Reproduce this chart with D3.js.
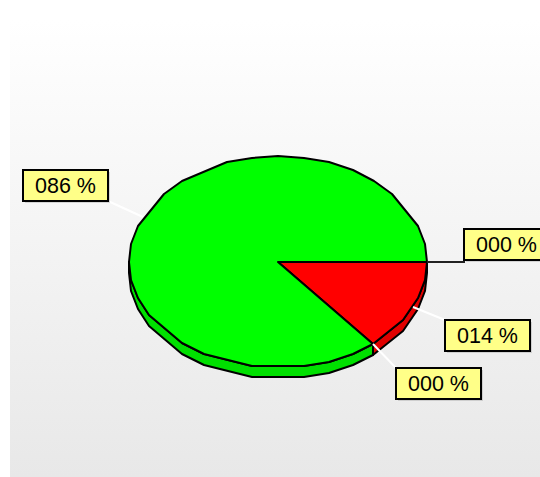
<!DOCTYPE html>
<html>
<head>
<meta charset="utf-8">
<script src="https://cdn.jsdelivr.net/npm/d3@7"></script>
<style>
  html, body { margin: 0; padding: 0; background: #fff; overflow: hidden; }
  text { font-family: "Liberation Sans", Arial, sans-serif; }
</style>
</head>
<body>
<div id="chart"></div>
<script>
// slices run clockwise, starting from the east side of the pie
const sliceValues = [0, 14, 0, 86];
const sliceColors = ["#00ff00", "#ff0000", "#ffff00", "#00ff00"];
const wallColors = ["#00e000", "#e00000", "#e0e000", "#00e000"];
const sliceLabels = ["000 %", "014 %", "000 %", "086 %"];

// label box top-left corners
const boxX = [464, 445, 396, 23];
const boxY = [229, 320, 368, 170];
const boxW = 85, boxH = 31;

// the rim is a coarse polygon: degrees clockwise from east where it has a corner
const rimDeg = [10, 20, 33, 60, 70, 80, 100, 120, 130, 150, 160, 170, 180, 190, 200,
    220, 230, 250, 260, 270, 280, 290, 300, 310, 320, 340, 350];

const width = 540, height = 477;
const cx = 278, cy = 262, rx = 149, ry = 106, depth = 11;

const svg = d3.select("#chart").append("svg")
    .attr("width", width)
    .attr("height", height)
    .style("display", "block");

const grad = svg.append("defs").append("linearGradient")
    .attr("id", "bg")
    .attr("x1", 0).attr("y1", 0).attr("x2", 0).attr("y2", 1);
grad.append("stop").attr("offset", "0%").attr("stop-color", "#ffffff");
grad.append("stop").attr("offset", "100%").attr("stop-color", "#e8e8e8");

svg.append("rect")
    .attr("x", 10).attr("y", 20)
    .attr("width", width - 10).attr("height", height - 20)
    .attr("fill", "url(#bg)");

const xScale = d3.scaleLinear().domain([-1, 1]).range([cx - rx, cx + rx]);
const yScale = d3.scaleLinear().domain([-1, 1]).range([cy + ry, cy - ry]);

const pie = d3.pie().sort(null)
    .startAngle(Math.PI / 2)
    .endAngle(Math.PI / 2 + 2 * Math.PI);
const slices = pie(sliceValues);

const pointAt = a => [Math.round(xScale(Math.sin(a))), Math.round(yScale(Math.cos(a)))];

function rimAngles(a0, a1) {
    const inner = rimDeg
        .map(deg => Math.PI / 2 + deg * Math.PI / 180)
        .filter(a => a > a0 && a < a1);
    return [a0, ...inner, a1];
}

const line = d3.line();

// side wall, only the part facing the viewer (east round to west)
slices.forEach((d, i) => {
    if (d.value === 0) return;
    const a0 = Math.max(d.startAngle, Math.PI / 2);
    const a1 = Math.min(d.endAngle, 3 * Math.PI / 2);
    if (a1 <= a0) return;
    const rim = rimAngles(a0, a1).map(pointAt);
    const low = rim.map(p => [p[0], p[1] + depth]).reverse();
    svg.append("path")
        .attr("d", line(rim.concat(low)) + "Z")
        .attr("fill", wallColors[i])
        .attr("stroke", "#000")
        .attr("stroke-width", 2)
        .attr("stroke-linejoin", "round");
});

// top face
slices.forEach((d, i) => {
    if (d.value === 0) return;
    const rim = rimAngles(d.startAngle, d.endAngle).map(pointAt);
    svg.append("path")
        .attr("d", line([[cx, cy]].concat(rim)) + "Z")
        .attr("fill", sliceColors[i])
        .attr("stroke", "#000")
        .attr("stroke-width", 2)
        .attr("stroke-linejoin", "round");
});

// leader lines, white except the one on the east side
slices.forEach((d, i) => {
    const p = pointAt((d.startAngle + d.endAngle) / 2);
    const bx = boxX[i] < p[0] ? boxX[i] + boxW : boxX[i];
    const by = boxY[i] > p[1] ? boxY[i] : boxY[i] + boxH;
    svg.append("path")
        .attr("d", i === 0 ? line([p, [bx, p[1]], [bx, by]]) : line([p, [bx, by]]))
        .attr("fill", "none")
        .attr("stroke", i === 0 ? "#222" : "#fff")
        .attr("stroke-width", 2);
});

// label boxes
slices.forEach((d, i) => {
    svg.append("rect")
        .attr("x", boxX[i] + 2).attr("y", boxY[i] + 2)
        .attr("width", boxW).attr("height", boxH)
        .attr("fill", "#999").attr("opacity", 0.35);
    svg.append("rect")
        .attr("x", boxX[i]).attr("y", boxY[i])
        .attr("width", boxW).attr("height", boxH)
        .attr("fill", "#ffff88")
        .attr("stroke", "#000")
        .attr("stroke-width", 2);
    svg.append("text")
        .attr("x", boxX[i] + boxW / 2)
        .attr("y", boxY[i] + 23)
        .attr("text-anchor", "middle")
        .attr("font-size", 21.5)
        .attr("fill", "#000")
        .text(sliceLabels[i]);
});
</script>
</body>
</html>
